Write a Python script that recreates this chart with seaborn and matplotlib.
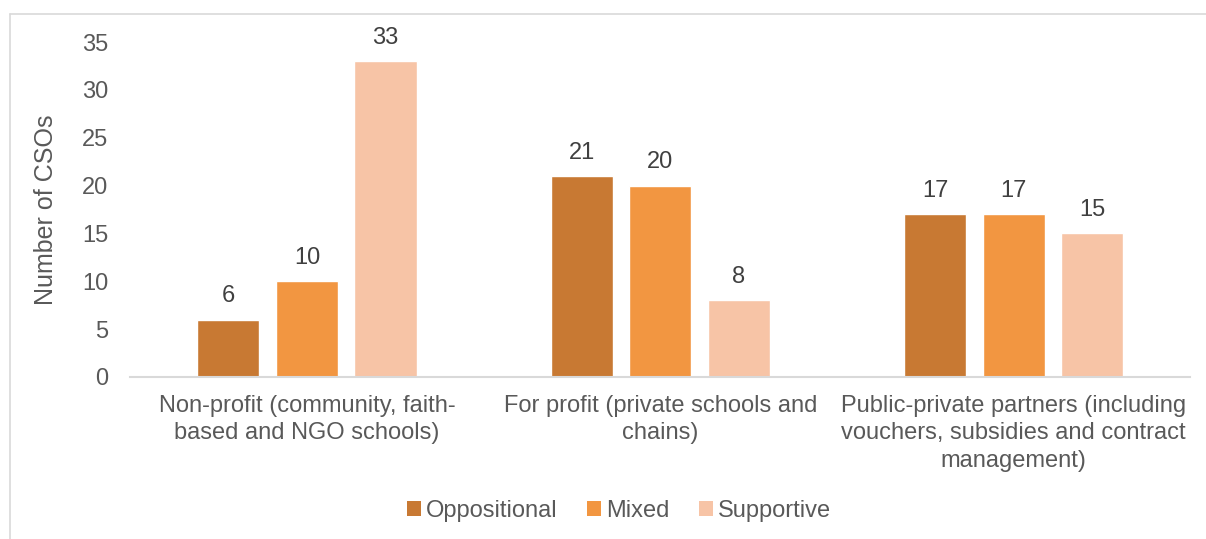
import matplotlib
matplotlib.use("Agg")
import matplotlib.pyplot as plt
import seaborn as sns
import pandas as pd
from matplotlib.lines import Line2D
from matplotlib.patches import Patch

categories = ["Non-profit (community, faith-\nbased and NGO schools)",
              "For profit (private schools and\nchains)",
              "Public-private partners (including\nvouchers, subsidies and contract\nmanagement)"]
stances = ["Oppositional", "Mixed", "Supportive"]
oppositional = [6, 21, 17]
mixed = [10, 20, 17]
supportive = [33, 8, 15]
yticks = [0, 5, 10, 15, 20, 25, 30, 35]
colors = ["#C87933", "#F29641", "#F7C4A6"]

rows = []
for i, c in enumerate(categories):
    for s, vals in zip(stances, [oppositional, mixed, supportive]):
        rows.append({"category": c, "stance": s, "value": vals[i]})
df = pd.DataFrame(rows)

sns.set_theme(style="white")
plt.rcParams['font.family'] = ['Liberation Sans', 'DejaVu Sans']
text_color = "#595959"
fs = 17

fig = plt.figure(figsize=(12.06, 5.39), dpi=100)
ax = fig.add_axes([0.108, 0.3006, 0.879, 0.6214])
sns.barplot(data=df, x="category", y="value", hue="stance", hue_order=stances,
            palette=colors, width=0.667, gap=0.21, ax=ax, legend=False, saturation=1)

for cont in ax.containers:
    ax.bar_label(cont, fmt="%d", padding=9, fontsize=fs, color="#404040")

ax.set_ylim(0, 35)
ax.set_yticks(yticks)
ax.set_xlim(-0.5, 2.5)
ax.set_xlabel("")
ax.set_ylabel("Number of CSOs", fontsize=18, color=text_color, labelpad=17)
ax.tick_params(axis="y", labelsize=fs, colors=text_color, length=0, pad=16)
ax.tick_params(axis="x", labelsize=fs, colors=text_color, length=0, pad=13)
for lab in ax.get_xticklabels():
    lab.set_linespacing(1.32)
for sp in ["top", "right", "left"]:
    ax.spines[sp].set_visible(False)
ax.spines["bottom"].set_color("#D9D9D9")
ax.spines["bottom"].set_linewidth(1.5)
ax.grid(False)

handles = [Patch(facecolor=c, edgecolor="none") for c in colors]
fig.legend(handles, stances, loc="center", bbox_to_anchor=(0.513, 0.052), ncol=3,
           frameon=False, fontsize=fs, labelcolor=text_color,
           handlelength=0.6, handleheight=0.6, handletextpad=0.2, columnspacing=1.25)

fig.add_artist(Line2D([10/1206, 1.0], [1-14/539, 1-14/539], color="#D9D9D9", lw=1.2))
fig.add_artist(Line2D([10/1206, 10/1206], [0, 1-14/539], color="#D9D9D9", lw=1.2))

fig.savefig("out.png", dpi=100)
